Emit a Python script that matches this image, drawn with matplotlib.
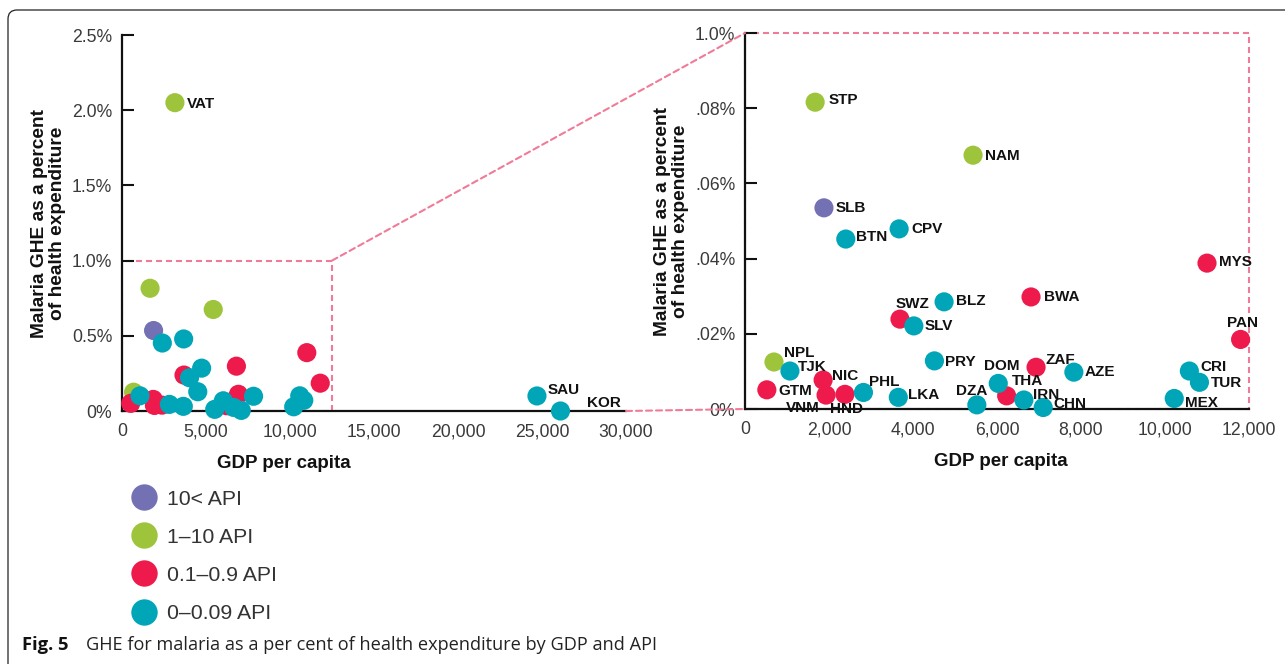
import matplotlib
matplotlib.use('Agg')
import matplotlib.pyplot as plt
from matplotlib.patches import Rectangle, FancyBboxPatch, ConnectionPatch
from matplotlib.lines import Line2D
from matplotlib.transforms import IdentityTransform

# ---------------- data ----------------
countries = ['VAT', 'STP', 'NAM', 'SLB', 'BTN', 'CPV', 'BLZ', 'SWZ', 'SLV', 'BWA',
             'MYS', 'PAN', 'NPL', 'TJK', 'GTM', 'NIC', 'VNM', 'HND', 'PHL', 'LKA',
             'PRY', 'DZA', 'DOM', 'THA', 'IRN', 'CHN', 'ZAF', 'AZE', 'CRI', 'TUR',
             'MEX', 'SAU', 'KOR']
gdp_per_capita = [3150, 1670, 5430, 1880, 2400, 3670, 4740, 3690, 4020, 6810,
                  11000, 11800, 690, 1070, 520, 1860, 1930, 2380, 2820, 3650,
                  4510, 5520, 6030, 6230, 6640, 7100, 6930, 7830, 10580, 10820,
                  10220, 24700, 26100]
ghe_pct = [2.05, 0.816, 0.675, 0.535, 0.452, 0.479, 0.285, 0.239, 0.221, 0.298,
           0.388, 0.185, 0.125, 0.101, 0.051, 0.077, 0.037, 0.039, 0.044, 0.031,
           0.128, 0.011, 0.068, 0.035, 0.024, 0.004, 0.111, 0.098, 0.101, 0.071,
           0.028, 0.100, 0.0]
api_group = ['1-10', '1-10', '1-10', '10<', '0-0.09', '0-0.09', '0-0.09', '0.1-0.9', '0-0.09', '0.1-0.9',
             '0.1-0.9', '0.1-0.9', '1-10', '0-0.09', '0.1-0.9', '0.1-0.9', '0.1-0.9', '0.1-0.9', '0-0.09', '0-0.09',
             '0-0.09', '0-0.09', '0-0.09', '0.1-0.9', '0-0.09', '0-0.09', '0.1-0.9', '0-0.09', '0-0.09', '0-0.09',
             '0-0.09', '0-0.09', '0-0.09']

groups = ['10<', '1-10', '0.1-0.9', '0-0.09']
legend_labels = ['10< API', '1–10 API', '0.1–0.9 API', '0–0.09 API']
left_labeled = ['VAT', 'SAU', 'KOR']

left_xticks = [0, 5000, 10000, 15000, 20000, 25000, 30000]
left_yticks = [0, 0.5, 1.0, 1.5, 2.0, 2.5]
left_yticklabels = ['0%', '0.5%', '1.0%', '1.5%', '2.0%', '2.5%']
right_xticks = [0, 2000, 4000, 6000, 8000, 10000, 12000]
right_yticks = [0, 0.2, 0.4, 0.6, 0.8, 1.0]
right_yticklabels = ['0%', '.02%', '.04%', '.06%', '.08%', '1.0%']

# ---------------- styles ----------------
colors = {'10<': '#7371b3', '1-10': '#9dc43b', '0.1-0.9': '#ee1a4b', '0-0.09': '#00a5b8'}
pink = '#f07b98'
# label offsets in pixels: (dx, dy, ha)
offsets = {
    'VAT': (12, -1, 'left'), 'SAU': (11, 6, 'left'), 'KOR': (27, 8, 'left'),
    'STP': (13, 2, 'left'), 'NAM': (12, -1, 'left'), 'SLB': (12, 0, 'left'),
    'BTN': (10, 2, 'left'), 'CPV': (12, 0, 'left'), 'BLZ': (12, 1, 'left'),
    'SWZ': (-4, 15, 'left'), 'SLV': (11, 0, 'left'), 'BWA': (13, 0, 'left'),
    'MYS': (12, 1, 'left'), 'PAN': (2, 16, 'center'), 'NPL': (10, 9, 'left'),
    'TJK': (8, 4, 'left'), 'GTM': (12, -1, 'left'), 'NIC': (9, 4, 'left'),
    'VNM': (-6, -13, 'right'), 'HND': (-15, -15, 'left'), 'PHL': (6, 10, 'left'),
    'LKA': (10, 2, 'left'), 'PRY': (11, -1, 'left'), 'DZA': (-21, 14, 'left'),
    'DOM': (-14, 17, 'left'), 'THA': (5, 15, 'left'), 'IRN': (9, 5, 'left'),
    'CHN': (10, 3, 'left'), 'ZAF': (9, 7, 'left'), 'AZE': (11, 0, 'left'),
    'CRI': (11, 4, 'left'), 'TUR': (11, -1, 'left'), 'MEX': (11, -5, 'left'),
}

plt.rcParams['font.family'] = ['Liberation Sans', 'DejaVu Sans']

W, H = 1285, 664
fig = plt.figure(figsize=(W / 100, H / 100), dpi=100)
fig.patch.set_facecolor('white')

axL = fig.add_axes([122 / W, (H - 411) / H, 504 / W, 376 / H])
axR = fig.add_axes([745 / W, (H - 409) / H, 504 / W, 376 / H])

marker_s = 190
for ax in (axL, axR):
    for g in groups:
        xs = [x for x, a in zip(gdp_per_capita, api_group) if a == g]
        ys = [y for y, a in zip(ghe_pct, api_group) if a == g]
        ax.scatter(xs, ys, s=marker_s, color=colors[g], edgecolors='none',
                   zorder=3, clip_on=False)
    for side in ('top', 'right'):
        ax.spines[side].set_visible(False)
    for side in ('left', 'bottom'):
        ax.spines[side].set_linewidth(1.6)
        ax.spines[side].set_color('#111111')
        ax.spines[side].set_zorder(2.5)
    ax.tick_params(axis='y', direction='in', length=8.5, width=1.5, pad=7,
                   labelsize=12.7, labelcolor='#3a3a3a', color='#111111')
    ax.tick_params(axis='x', length=0, pad=9, labelsize=12.7, labelcolor='#3a3a3a')
    ax.set_xlabel('GDP per capita', fontsize=13.5, fontweight='bold', color='#111111')
    ax.set_ylabel('Malaria GHE as a percent\nof health expenditure', fontsize=13.8,
                  fontweight='bold', color='#111111', linespacing=1.05)
    ax.yaxis.set_label_coords(-0.112, 0.5)

# left panel
axL.set_xlim(0, 30000)
axL.set_ylim(0, 2.5)
axL.set_xticks(left_xticks)
axL.set_xticklabels([f'{v:,}' for v in left_xticks])
axL.set_yticks(left_yticks)
axL.set_yticklabels(left_yticklabels)
axL.xaxis.set_label_coords(0.321, -0.117)
axL.add_patch(Rectangle((0, 0), 12500, 1.0, fill=False, edgecolor=pink, lw=1.5,
                        linestyle=(0, (2.9, 1.9)), zorder=1))

# right panel
axR.set_xlim(0, 12000)
axR.set_ylim(0, 1.0)
axR.set_xticks(right_xticks)
axR.set_xticklabels([f'{v:,}' for v in right_xticks])
axR.set_yticks(right_yticks)
axR.set_yticklabels(right_yticklabels)
axR.xaxis.set_label_coords(0.508, -0.117)
axR.add_patch(Rectangle((0, 0), 1, 1, transform=axR.transAxes, fill=False,
                        edgecolor=pink, lw=1.5, linestyle=(0, (2.9, 1.9)),
                        zorder=1, clip_on=False))

# labels
for c, x, y in zip(countries, gdp_per_capita, ghe_pct):
    dx, dy, ha = offsets[c]
    if c in left_labeled:
        axL.annotate(c, (x, y), xytext=(dx, dy), textcoords='offset pixels',
                     ha=ha, va='center', fontsize=11, fontweight='bold',
                     color='#111111', zorder=4)
    elif x <= 12500 and y <= 1.0:
        axR.annotate(c, (x, y), xytext=(dx, dy), textcoords='offset pixels',
                     ha=ha, va='center', fontsize=11, fontweight='bold',
                     color='#111111', zorder=4, annotation_clip=False)

# connecting dashed lines
for xyA, xyB in [((12500, 1.0), (0, 1.0)), ((30000, 0), (0, 0))]:
    con = ConnectionPatch(xyA=xyA, coordsA=axL.transData, xyB=xyB,
                          coordsB=axR.transData, color=pink, lw=1.5,
                          linestyle=(0, (2.9, 1.9)), zorder=1)
    fig.add_artist(con)

# legend
handles = [Line2D([0], [0], marker='o', linestyle='none', markersize=19,
                  markerfacecolor=colors[g], markeredgecolor='none') for g in groups]
leg = fig.legend(handles, legend_labels, loc='upper left',
                 bbox_to_anchor=(117 / W, 1 - 479 / H), frameon=False,
                 fontsize=15.3, labelspacing=0.9, handletextpad=0.3,
                 borderpad=0, handlelength=1.55)
for t in leg.get_texts():
    t.set_color('#333333')

# caption
fig.text(22 / W, 1 - 645 / H, 'Fig. 5', fontsize=13.2, fontweight='bold',
         family=['Open Sans', 'DejaVu Sans'], va='center', ha='left', color='#111111')
fig.text(86 / W, 1 - 645 / H,
         'GHE for malaria as a per cent of health expenditure by GDP and API',
         fontsize=13.1, family=['Open Sans', 'DejaVu Sans'], va='center', ha='left',
         color='#222222')

# frame
frame = FancyBboxPatch((8, -30), 1400, H - 10 + 30,
                       boxstyle='round,pad=0,rounding_size=9',
                       transform=IdentityTransform(), fill=False,
                       edgecolor='#222222', lw=0.9)
fig.add_artist(frame)

fig.savefig('out.png', dpi=100)
